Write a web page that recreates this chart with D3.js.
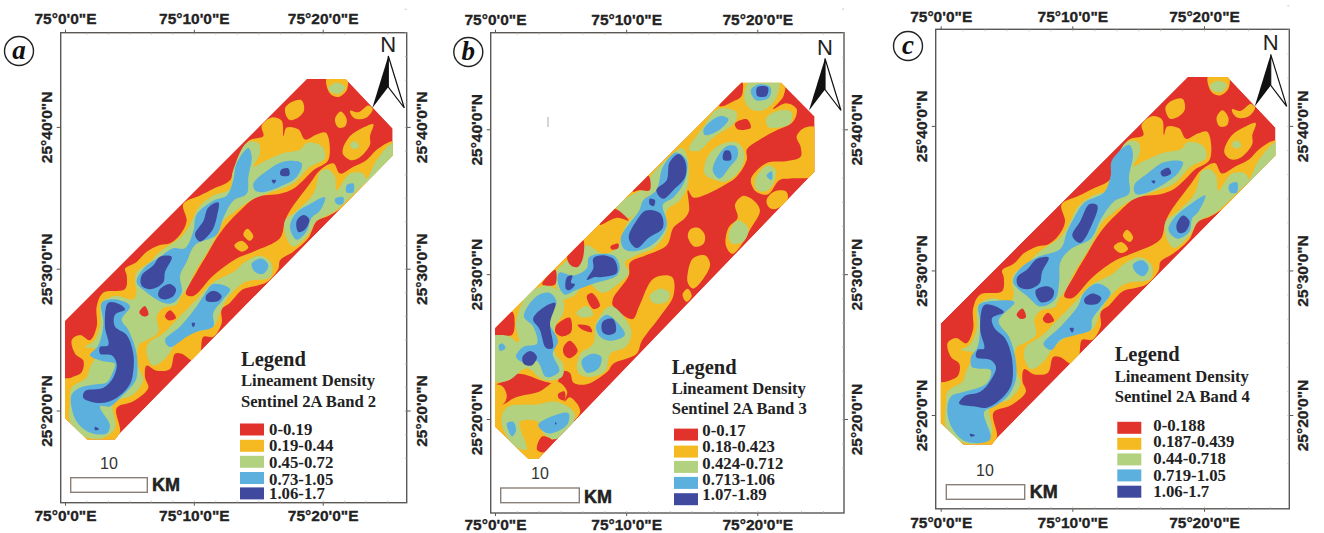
<!DOCTYPE html>
<html>
<head>
<meta charset="utf-8">
<script src="https://cdn.jsdelivr.net/npm/d3@7"></script>
<style>
html,body{margin:0;padding:0;background:#fff;overflow:hidden;}
svg{display:block;}
</style>
</head>
<body>
<div id="canvas"></div>
<script>
//Axis ticks. lon = minutes after 75E, lat = minutes after 25N
var lonTicks = [0, 10, 20];
var lonLabels = ["75°0'0\"E", "75°10'0\"E", "75°20'0\"E"];
var latTicks = [40, 30, 20];
var latLabels = ["25°40'0\"N", "25°30'0\"N", "25°20'0\"N"];

//Legend
var classColors = ["#e1322c", "#f5b922", "#b2d280", "#5bb0de", "#3f4a9e"];
var legendA = ["0-0.19", "0.19-0.44", "0.45-0.72", "0.73-1.05", "1.06-1.7"];
var legendB = ["0-0.17", "0.18-0.423", "0.424-0.712", "0.713-1.06", "1.07-1.89"];
var legendC = ["0-0.188", "0.187-0.439", "0.44-0.718", "0.719-1.05", "1.06-1.7"];

//Study area outline
var footprintA = [[0,26.33],[18.76,43.38],[21.79,43.38],[25.43,39.88],[25.43,37.96],[4.27,18.4],[3.88,17.94],[1.73,17.94],[0,19.45]];
var footprintB = [[0,26.27],[18.78,43.22],[21.83,43.22],[24.37,40.89],[24.37,37.07],[3.3,17.23],[2.54,17.23],[0,19.46]];

//Band 2 rings
var orangeA = [
 [[-.39,22.09],[.52,22.33],[1.29,22.69],[1.42,23.53],[.78,24.01],[.52,24.96],[1.16,25.32],[1.94,24.96],[2.46,25.92],[2.46,27.36],[2.98,28.32],[4.66,28.56],[4.79,29.52],[4.66,30],[5.56,30.48],[6.34,31.2],[7.37,31.68],[8.15,31.8],[8.93,32.4],[9.44,33.36],[9.18,34.56],[10.48,35.16],[11.51,35.64],[12.81,36.24],[13.06,36.95],[14.23,39],[15.39,39.35],[15.26,40.07],[16.04,40.67],[16.82,40.43],[16.95,39.35],[17.2,39.95],[18.11,39.83],[18.63,39.11],[19.53,39.47],[20.26,39.59],[20.44,37.67],[19.27,36.95],[18.5,36.24],[17.72,35.64],[16.69,35.28],[14.88,35.04],[13.58,34.08],[12.55,33.12],[11.77,32.16],[11,30.96],[10.22,29.76],[9.39,28.2],[9.96,28.08],[11.51,29.52],[13.32,30.72],[14.62,31.2],[16.69,32.16],[17.07,33.36],[17.46,34.08],[19.01,36],[19.79,36.95],[20.83,37.43],[21.34,36.71],[22.38,37.19],[23.41,37.67],[24.19,38.39],[25.43,38.99],[25.74,38.63],[25.74,37.91],[23.67,36.24],[22.12,34.8],[21.34,34.2],[20.44,33.72],[19.53,33.36],[19.14,32.64],[18.89,32.16],[17.72,31.2],[16.69,30.6],[16.56,30],[15.65,29.04],[14.88,28.8],[13.84,28.56],[12.81,27.6],[12.16,27.12],[12.16,26.16],[11.51,25.2],[10.74,25.2],[10.48,24.01],[9.96,23.53],[9.05,24.01],[8.54,24.01],[8.15,22.93],[7.11,22.81],[6.34,23.17],[6.21,22.33],[6.47,21.61],[5.3,20.65],[4.01,20.17],[4.27,18.49],[3.75,17.77],[1.42,17.53],[-.39,19.21]],
 [[20.31,43.43],[21.86,43.43],[21.86,42.59],[21.21,42.11],[20.57,42.35]],
 [[17.07,41.27],[17.59,41.75],[18.37,41.87],[18.55,41.15],[18.11,40.67],[17.41,40.5]],
 [[20.95,40.55],[21.4,41.08],[21.86,40.55],[21.73,40.02],[21.21,39.95]],
 [[22.12,41.15],[22.77,41.03],[23.54,41.51],[23.88,41.27],[23.41,40.67],[22.64,40.55],[22.25,40.79]],
 [[21.55,38.39],[22.12,39.35],[23.15,39.95],[23.93,40.19],[23.67,39.35],[23.67,38.75],[22.77,37.79],[22.12,37.67],[21.6,38.03]],
 [[13.84,32.4],[14.15,32.81],[14.62,32.28],[14.36,31.97]],
 [[13.14,31.63],[13.71,31.97],[14.23,31.49],[13.71,31.2]]
];
var greenA = [
 [[.52,21.61],[1.68,22.33],[1.94,23.05],[2.59,24.25],[1.55,24.49],[2.2,24.84],[2.72,25.92],[2.85,27.6],[3.88,28.08],[5.3,27.84],[5.56,28.32],[5.43,29.04],[5.56,29.76],[6.6,30.48],[7.37,31.2],[9.18,32.4],[9.96,33.6],[10.35,34.32],[11.51,35.16],[12.81,35.64],[13.06,36.95],[14.1,38.87],[15,38.87],[15.13,38.15],[14.62,37.19],[15.39,37.55],[16.94,38.15],[18.24,38.39],[18.76,38.87],[19.92,38.63],[20.18,37.79],[19.01,37.19],[18.37,36.59],[17.72,36],[15.65,35.28],[14.36,34.8],[13.06,33.96],[12.29,33.36],[11.51,31.92],[10.74,30.72],[10.22,30],[9.44,28.56],[8.93,27.96],[8.67,27.48],[7.63,27.24],[7.11,26.64],[7.24,25.56],[6.34,24.96],[5.82,24.72],[5.56,23.77],[5.82,22.81],[6.08,22.21],[5.3,21.13],[3.75,20.53],[3.88,18.73],[2.72,18.01],[1.29,18.25],[.39,19.21],[.39,20.65]],
 [[11.51,29.04],[13.06,29.76],[13.97,30.48],[15.13,30.91],[16.04,30.36],[15.91,29.4],[14.36,29.16],[13.71,28.92],[12.55,27.84],[12.03,26.88],[11.51,25.92],[9.44,25.32],[8.41,24.48],[7.89,23.77],[6.86,23.17],[6.34,24.01],[6.47,24.72],[7.63,25.44],[8.93,26.64],[10.22,27.84]],
 [[19.66,36.47],[19.79,36.83],[20.44,37],[20.95,36.47],[21.08,35.52],[22.12,36.71],[23.15,36.71],[23.41,36.35],[24.19,37.67],[25.48,38.87],[25.87,37.91],[23.41,36.12],[21.6,34.56],[20.83,33.96],[19.53,33.36],[18.89,32.4],[17.72,31.56],[17.2,32.16],[17.07,33.36],[17.98,34.08],[19.27,35.28]],
 [[22.12,38.75],[22.51,38.99],[22.84,38.63],[22.38,38.44]],
 [[20.44,42.76],[21.08,43.12],[21.73,42.83],[21.34,42.35],[20.7,42.42]]
];
var blueA = [
 [[2.85,27.6],[3.88,27.84],[5.04,27.36],[4.4,26.4],[4.92,25.68],[5.56,24.01],[5.56,22.33],[5.3,21.85],[4.27,20.89],[3.49,20.29],[2.72,20.29],[3.49,18.97],[3.23,18.37],[1.81,18.49],[.91,19.21],[.52,20.17],[.52,21.13],[1.16,21.61],[2.46,21.85],[3.23,21.97],[3.75,22.81],[3.88,23.29],[2.72,23.53],[1.94,23.89],[2.59,24.6],[2.98,26.16]],
 [[5.56,29.04],[6.08,30],[7.37,30.84],[8.41,31.44],[9.31,31.44],[9.96,32.64],[10.22,33.84],[11.51,34.8],[12.55,35.16],[13.06,36.24],[13.32,37.43],[14.23,38.51],[14.49,37.91],[14.23,36.47],[14.1,35.28],[13.06,34.8],[12.29,33.6],[11.77,32.4],[10.09,31.68],[9.44,30.48],[8.93,29.52],[9.05,28.32],[8.41,27.6],[7.63,27.6],[6.34,28.32]],
 [[14.62,36],[15.39,36.71],[16.94,37.55],[18.37,37.43],[17.98,36.47],[16.94,35.88],[15.39,35.4],[14.75,35.52]],
 [[7.76,24.96],[8.93,25.92],[10.22,27.36],[10.74,28.08],[11.51,28.92],[12.81,28.56],[12.29,27.84],[11.51,26.88],[11.51,25.92],[10.22,25.56],[9.44,25.2],[8.15,24.48]],
 [[17.46,32.88],[17.85,33.84],[19.01,34.56],[20.18,35.04],[19.79,34.08],[19.14,33.6],[18.76,32.64],[17.98,32.04]],
 [[14.49,30.36],[15.26,30.72],[15.78,30.24],[15.39,29.64],[14.75,29.76]],
 [[21.86,35.88],[22.38,36],[22.38,35.4],[21.86,35.4]],
 [[20.95,34.92],[21.6,35.04],[21.55,34.56],[21.08,34.56]]
];
var navyA = [
 [[3.36,27.6],[4.27,27.48],[4.66,27.12],[3.88,26.76],[3.88,25.92],[4.79,25.32],[5.3,24.01],[5.3,22.81],[5.04,21.85],[4.01,20.89],[2.72,20.53],[1.42,20.89],[1.55,21.37],[2.98,21.61],[3.75,22.33],[4.01,23.29],[3.62,23.89],[2.72,24.01],[2.72,24.49],[3.36,24.6],[3.1,25.92]],
 [[5.95,29.52],[6.86,30.24],[7.37,30.84],[8.28,30.84],[7.76,29.76],[7.63,29.04],[6.73,28.56],[5.95,28.8]],
 [[7.37,28.56],[8.15,28.92],[8.61,28.56],[8.41,28.08],[7.63,27.84],[7.24,28.08]],
 [[10.09,32.4],[10.74,33.36],[11.12,34.32],[11.9,34.68],[11.77,33.6],[11.38,32.64],[10.48,31.92]],
 [[10.94,28.08],[11.51,28.44],[12.16,28.08],[11.9,27.72],[10.99,27.72]],
 [[16.74,36.95],[17.33,37.07],[17.41,36.59],[16.74,36.59]],
 [[17.98,33.36],[18.5,33.79],[18.96,33.48],[18.63,32.76],[18.11,32.59]],
 [[16.04,36.24],[16.38,36.24],[16.22,36]],
 [[9.83,26.16],[10.09,26.16],[9.96,25.88]],
 [[2.33,18.85],[2.64,18.68],[2.33,18.61]]
];
var holesA = [
 [[5.77,26.93],[6.21,27.36],[6.47,26.76],[6.08,26.64]],
 [[7.76,26.64],[8.15,27.07],[8.61,26.52],[8.02,26.36]]
];

//Band 3 rings
var orangeB = [
 [[-.6,26.6],[16.9,42.1],[18.7,43.5],[22,43.5],[22,42.3],[21.2,41.4],[22.2,41.8],[23,41.4],[22.7,40.5],[21.4,39.9],[20.2,39.3],[19.2,38.6],[19.2,37.9],[18.4,36.7],[17.6,36.2],[16.1,35.5],[15.1,35.3],[14.7,35.8],[14.8,34.4],[14.5,33.9],[13.6,33.2],[13.1,32],[11.5,31.3],[10.3,30.8],[10.2,29.9],[9,28.3],[9,27.8],[10.5,26.9],[11,27.8],[12.1,29.7],[13.5,29.8],[13.6,28.5],[12.6,27.1],[11.2,25.4],[10.8,24.5],[9,23.8],[8.6,23.3],[7,22.4],[6,22.5],[5.7,23.2],[5.1,23.3],[4.7,22.5],[3.7,22.6],[2.5,23],[1.6,23.1],[.4,22.5],[-.4,22.4]],
 [[.6,21],[1.6,21.5],[3.4,21.9],[4.7,22.6],[5.5,21.9],[5.3,21.2],[5.7,21.5],[6.5,20.5],[4.4,18.6],[3.4,17.1],[2.4,17.1],[-.4,19.3],[-.4,20.8]],
 [[-.4,22.3],[.5,22.3],[.9,21.6],[.6,21],[-.4,20.9]],
 [[24.5,40.1],[23.6,40.1],[23,39.5],[23.3,38.8],[23.3,38.1],[22.2,37.8],[20.8,37.7],[19.9,37.1],[19.5,36.5],[19.9,35.7],[20.8,35.5],[21.7,36.5],[22.5,36.6],[24.5,36.9]],
 [[20.7,35.1],[21.3,35.7],[22.2,35.7],[22.3,35.1],[21.4,34.5],[20.9,34.6]],
 [[18.3,34.8],[18.9,35.4],[19.7,35.1],[20.2,34.4],[19.4,33],[19,32.3],[18.1,31.4],[17.6,32],[17.8,33.2],[18.5,33.9]],
 [[14.7,32.6],[14.9,33.1],[15.5,33.2],[16,32.7],[15.9,32.1],[15.2,31.9]],
 [[14.7,30.1],[15.1,31.1],[16,31.3],[16.4,30.7],[15.9,29.7],[15.1,29],[14.7,29.4]],
 [[14.3,28.6],[14.7,29],[15,28.5],[14.6,28.1]]
];
var greenB = [
 [[19,42.2],[19.5,43.4],[21.6,43.4],[21.4,42.1],[20.4,41.3],[19.5,41.4]],
 [[14.8,38.6],[15.9,40.2],[17,41.4],[18.4,41.2],[18.3,40.5],[16.6,39.4],[15.5,38.5]],
 [[16.1,37.9],[16.9,38.8],[18.4,39.1],[19,38.4],[18.7,37.2],[17.6,36.4],[16.8,36.5],[16,36.9]],
 [[20.7,40.8],[21.7,41.3],[22.6,41.2],[22.5,40.4],[21.4,40.1],[20.8,40.2]],
 [[19.9,36.7],[20.8,37.5],[21.4,37.2],[21.2,36.2],[20.6,35.7],[19.9,35.9]],
 [[17.8,32.7],[18.5,33.7],[19.3,33.2],[19,32.3],[18.1,32.1]],
 [[11.7,36.5],[13.3,38.1],[14.3,38.7],[14.7,37.9],[14.7,36.2],[14.1,35.1],[13.1,34.4],[13.1,33],[12.1,31.8],[10.8,31.3],[9.9,30.8],[10.2,30.1],[9.5,29.4],[8.2,28.7],[7,29.4],[6,28.5],[5.1,28.3],[4.7,29],[4.6,30.1],[5.7,31.1],[7,32],[8.2,31.4],[9.3,31.8],[9.9,33.2],[10.4,33.9],[11.5,35.3]],
 [[9.3,34.6],[10.5,35.5],[11.5,35.8],[11,34.4],[10,33.9]],
 [[2.4,28.5],[3.7,29.2],[4.6,29],[5.2,28.3],[5.2,27.3],[4.6,26.4],[4.6,24.5],[5.2,23.8],[5.1,22.9],[3.7,22.7],[2.4,23.5],[1.1,22.7],[0,22.6],[-.4,24],[-.4,25.8],[.9,25.8],[1.8,25.3],[1.6,26.6]],
 [[7.7,26.6],[8.8,27.8],[9.8,27.1],[10.4,26],[10,25],[8.8,24.5],[8.4,23.3],[7,22.9],[6.3,23.3],[6.5,24.5],[7.5,25.2]],
 [[11.8,28.5],[12.6,29],[13.3,28.7],[13.1,28.1],[12.1,28]],
 [[6.2,27.3],[7,27.8],[7.5,27.2],[6.7,27]],
 [[.5,19.8],[.9,20.8],[3.2,21],[4.6,21.2],[6,20.5],[6,19.8],[4.6,18.6],[3.7,19],[3.3,19.8],[1.9,19.8],[2.4,17.9],[1.4,18.2]]
];
var blueB = [
 [[9.6,32.5],[11,34.4],[11.3,35.1],[12.3,35.8],[12.8,37.4],[13.8,38.4],[14.6,37.9],[14.5,36.5],[13.6,35.3],[12.8,34.8],[13.1,33.4],[12.1,32.1],[10.8,31.6],[9.9,31.7]],
 [[4.8,29.4],[4.9,30.1],[6,29.9],[7,30.4],[7.2,31.2],[9,31.3],[9.5,30.6],[9.3,29.9],[7.7,29.4],[6.2,28.9],[5.3,28.6]],
 [[2.2,27.1],[3.2,28.5],[4.2,28.7],[4.7,28],[3.9,27.1],[4.8,25.4],[4.4,24.5],[4.9,23.3],[3.9,22.9],[3.2,24],[2.2,23.9],[1.6,24.3],[2.2,25],[3.2,25.2],[2.9,26.4]],
 [[7.7,26.4],[8.5,27.2],[9.4,26.6],[9.9,25.8],[8.8,25.4],[8,25.7]],
 [[6.6,24],[7.4,24.5],[8.1,24.3],[7.9,23.5],[7,23.2]],
 [[15.9,40],[17.1,40.9],[17.8,40.7],[17,39.9],[16,39.6]],
 [[16.6,37.2],[17.6,38.8],[18.4,38.8],[18.5,38.1],[17.9,37.4],[17.1,36.6]],
 [[3.3,19.6],[4.4,20.2],[5.6,20.4],[5.5,19.6],[4.2,19],[3.6,19.2]],
 [[.9,19.7],[1.4,19.8],[1.6,19.2],[1.3,18.8]],
 [[.3,25.1],[.6,25.2],[.8,24.9],[.4,24.7]],
 [[20.7,36.8],[21.1,37.1],[21.1,36.5]],
 [[19.5,42.7],[20.1,43.1],[21,42.9],[20.9,42.2],[19.9,42]]
];
var navyB = [
 [[12.3,35.8],[13.1,36.5],[13.3,37.7],[14,38.3],[14.5,37.8],[14.5,36.7],[13.6,35.8],[12.8,35.2]],
 [[10.2,32.5],[10.8,33.7],[11.5,34.4],[12.6,34.2],[12.8,33.2],[11.7,32.5],[10.8,31.8]],
 [[7,29.6],[7.5,30.4],[7.5,31.1],[8.2,31.3],[9.1,31],[9.3,30.1],[8.2,29.8],[7.6,29.8]],
 [[5.5,29.8],[5.9,29.9],[5.8,29.4],[6.1,29.3],[5.7,28.9],[5.4,29]],
 [[2.9,26.9],[3.7,27.7],[4.6,28],[4.2,26.6],[4.4,25.4],[4.4,24.9],[3.9,24.9],[3.4,26.2]],
 [[2.1,24.3],[2.7,24.7],[3.2,24.3],[2.8,23.7],[2.2,23.8]],
 [[8.2,26.7],[9,26.9],[9.2,26],[8.6,25.8],[8.2,26]],
 [[20,42.9],[20.8,42.9],[20.7,42.3],[20,42.3]],
 [[17.5,38.5],[17.9,38.5],[18,37.9],[17.4,37.9]],
 [[11.8,35.2],[12.2,35.1],[12.1,34.7],[11.8,34.8]],
 [[4.6,19.8],[4.7,19.7],[4.6,19.6]]
];
var holesB = [
 [[3.6,29.3],[4.6,30.3],[4.6,29.3],[4.1,29.2]],
 [[5.5,31.2],[6.7,32.4],[6.7,31.1],[6.3,30.5],[5.8,30.6]],
 [[8,33.4],[9.1,34.5],[10.2,33.7],[9.3,33.9]],
 [[10.5,35.7],[11.7,36.8],[11.8,35.8],[11,35.8]],
 [[17.1,41.6],[18.8,43.4],[18.8,42.3],[18.1,41.9],[17.4,41.6]],
 [[-.4,25.9],[-.4,26.5],[1.3,27.4],[1.5,26.7],[1.3,25.8],[.6,25.8]],
 [[18.3,40.4],[19.2,40.7],[19.5,40.1],[18.5,40]],
 [[4.7,26.5],[5.7,27],[5.8,26],[5.1,25.7],[4.6,26]],
 [[5.2,24.9],[5.7,25.4],[6.3,24.7],[5.7,24.2],[5.3,24.4]],
 [[7,28.5],[7.4,28.7],[8,27.8],[7.5,27.6]],
 [[6.3,26.5],[7.2,26.4],[7.4,26],[6.6,26.2]],
 [[8.8,31.9],[9.4,32.1],[9.4,31.8],[8.9,31.7]],
 [[4.8,21.7],[5.3,21.9],[5.3,21.3],[4.9,21.4]],
 [[3.2,17.9],[3.6,18.8],[4.4,18.5],[3.7,17.7]]
];

//Band 4 rings. Its two outer classes are read the same as band 2
var blueC = [
 [[2.9,27.6],[4.3,27.9],[5.6,27.8],[4.4,26.5],[5.2,25.4],[5.7,23.8],[5.7,22.4],[5.1,21.3],[4.1,20.6],[3.3,20.2],[3.8,18.4],[3.3,18.1],[1.8,18.2],[.8,19.2],[.5,20.5],[.8,21.3],[1.8,21.6],[3.5,22.2],[3.8,23.1],[2.4,23.3],[2.3,24],[2.8,24.7],[3,26.4]],
 [[5.5,29.2],[6,30.1],[7.3,30.9],[9.1,31.5],[9.6,32.7],[10.1,33.6],[10.9,34.7],[12.4,35.4],[12.9,36.5],[13,37.6],[14.3,38.7],[14.6,38.1],[14.3,36.5],[14.3,35.3],[13.2,34.8],[12.2,33.6],[11.4,32.2],[9.9,31.5],[9.1,30.6],[9,29.2],[8.7,28],[7.6,27.5],[6.6,28.2]],
 [[14.7,35.9],[15.7,36.7],[17,37.5],[18.4,37.5],[18,36.7],[17,36],[15.4,35.3],[14.8,35.3]],
 [[7.8,24.9],[9.1,26.1],[10.4,27.5],[10.9,28.5],[11.9,29.1],[12.9,28.5],[12.2,27.5],[11.5,26.6],[11.4,25.9],[10.1,25.5],[9.1,25.2],[8.4,24.5]],
 [[17.3,32.8],[17.7,33.6],[19,34.6],[20.1,35.2],[19.6,34.1],[19.1,33.6],[18.9,32.7],[18,32.2]],
 [[14.6,30.4],[15.3,30.7],[15.8,30.2],[15.4,29.6],[14.8,29.9]],
 [[21.9,35.9],[22.5,36.1],[22.5,35.4],[22,35.4]]
];
var navyC = [
 [[3.3,27.6],[4.2,27.5],[4.8,27.1],[3.9,26.7],[4.1,26],[4.9,25.3],[5.4,24],[5.4,22.2],[4.8,21.3],[3.5,20.5],[2.5,20.6],[1.4,20.8],[1.8,21.3],[3,21.6],[3.8,22.4],[4.2,23.3],[3.8,23.8],[2.7,24],[2.8,24.5],[3.3,24.6],[3,25.9]],
 [[5.8,29.5],[6.6,30.1],[7.3,30.8],[8.2,30.9],[7.7,29.9],[7.5,29.1],[6.6,28.7],[5.9,28.9]],
 [[7.2,28.6],[8.1,28.9],[8.6,28.6],[8.4,28],[7.6,27.8]],
 [[10,32.4],[10.6,33.4],[11.3,34.6],[11.9,34.5],[11.5,33.2],[10.6,31.9]],
 [[10.9,28],[11.5,28.4],[12.2,28.1],[11.9,27.7],[11,27.7]],
 [[16.7,36.8],[17.3,37.1],[17.5,36.7],[16.9,36.5]],
 [[17.9,33.1],[18.4,33.8],[18.9,33.4],[18.6,32.7],[18.1,32.6]],
 [[16,36.2],[16.3,36.2],[16.2,36]],
 [[9.8,26],[10.1,26],[10,25.7]],
 [[2.2,18.7],[2.6,18.6],[2.3,18.5]]
];

//Where each map sits on the page
var panels = [
 {id:"a", badge:"a", band:"Sentinel 2A Band 2", foot:footprintA, layers:[orangeA, greenA, blueA, navyA], holes:holesA, legend:legendA,
  frame:[60.7,32.7,406.7,502.7], x:[65,322.7], y:[126.9,410.5], topY:18.4, botY:516, leftX:47, rightX:422,
  badgeAt:[19,51], north:[388.3,56], bar:[70.7,477.7,147.3,492.3], barText:[109,469], kmAt:[152,491],
  legendX:241, legendY:[365.6,386,406.5], swatchX:240, swatchY:[423.5,439.8,455.8,472,487.4], labelX:269, labelY:[435.4,450.7,467.7,484.7,499.3]},
 {id:"b", badge:"b", band:"Sentinel 2A Band 3", foot:footprintB, layers:[orangeB, greenB, blueB, navyB], holes:holesB, legend:legendB,
  frame:[490.7,32.7,844,513], x:[495,757.3], y:[129.3,419], topY:19.7, botY:524.5, leftX:477, rightX:857,
  badgeAt:[468.3,52], north:[825,58.5], bar:[500.7,488,579.3,502.7], barText:[540,479], kmAt:[584,502.7],
  legendX:671.7, legendY:[373.5,393.9,414.3], swatchX:674, swatchY:[428.6,445.6,460.9,476.9,493.2], labelX:702.3, labelY:[436.4,452.4,469.4,484.7,500]},
 {id:"c", badge:"c", band:"Sentinel 2A Band 4", foot:footprintA, layers:[orangeA, greenA, blueC, navyC], holes:holesA, legend:legendC,
  frame:[935.7,29.3,1289.3,508.8], x:[940.7,1204], y:[125.9,415], topY:16.3, botY:522.5, leftX:922, rightX:1303,
  badgeAt:[908,46], north:[1270.7,54.4], bar:[946.3,484.7,1024.7,499.3], barText:[985,475.5], kmAt:[1029.7,498.3],
  legendX:1114.7, legendY:[361.2,381.6,402], swatchX:1117.3, swatchY:[421.8,437.8,453.4,469.4,485.7], labelX:1153.3, labelY:[431.3,447.3,464.3,480.6,496.6]}
];

var svg = d3.select("#canvas").append("svg").attr("width", 1324).attr("height", 533);
var SANS = "'Liberation Sans', Arial, sans-serif";
var SERIF = "'Liberation Serif', 'Times New Roman', serif";
var FRAME_COLOR = "#5a5754";

panels.forEach(drawPanel);

//stray speck in the middle map
svg.append("line").attr("x1", 548).attr("x2", 548).attr("y1", 117).attr("y2", 127)
    .attr("stroke", "#aaa").attr("stroke-width", 1);

function drawPanel(p) {
    var g = svg.append("g");
    var x = d3.scaleLinear().domain([0, 20]).range(p.x);
    var y = d3.scaleLinear().domain([40, 20]).range(p.y);
    var ring = d3.line().x(function(d){return x(d[0]);}).y(function(d){return y(d[1]);});
    var smooth = d3.line().x(function(d){return x(d[0]);}).y(function(d){return y(d[1]);})
        .curve(d3.curveCatmullRomClosed.alpha(0.5));

    //map
    g.append("clipPath").attr("id", "clip-" + p.id)
        .append("path").attr("d", ring(p.foot) + "Z");
    var map = g.append("g").attr("clip-path", "url(#clip-" + p.id + ")");
    map.append("path").attr("d", ring(p.foot) + "Z").attr("fill", classColors[0]);
    p.layers.forEach(function(rings, i){
        map.selectAll("path.c" + i).data(rings).enter().append("path")
            .attr("class", "c" + i)
            .attr("d", smooth)
            .attr("fill", classColors[i + 1]);
    });
    map.selectAll("path.hole").data(p.holes).enter().append("path")
        .attr("class", "hole")
        .attr("d", smooth)
        .attr("fill", classColors[0]);

    //frame
    g.append("rect")
        .attr("x", p.frame[0]).attr("y", p.frame[1])
        .attr("width", p.frame[2] - p.frame[0]).attr("height", p.frame[3] - p.frame[1])
        .attr("fill", "none").attr("stroke", FRAME_COLOR).attr("stroke-width", 1.4);

    //faint inner ticks
    var minorLon = d3.range(5/3, 25.5, 5/3);
    var minorLat = d3.range(40 + 5/3 * 5, 15, -5/3);
    g.append("g").attr("transform", "translate(0," + p.frame[3] + ")")
        .call(d3.axisBottom(x).tickValues(minorLon).tickSize(-2).tickFormat(""))
        .call(faint);
    g.append("g").attr("transform", "translate(0," + p.frame[1] + ")")
        .call(d3.axisTop(x).tickValues(minorLon).tickSize(-2).tickFormat(""))
        .call(faint);
    g.append("g").attr("transform", "translate(" + p.frame[2] + ",0)")
        .call(d3.axisRight(y).tickValues(minorLat).tickSize(-2).tickFormat(""))
        .call(faint);

    //labelled ticks
    function lonFmt(d){ return lonLabels[lonTicks.indexOf(d)]; }
    function latFmt(d){ return latLabels[latTicks.indexOf(d)]; }

    var top = g.append("g").attr("transform", "translate(0," + p.frame[1] + ")")
        .call(d3.axisTop(x).tickValues(lonTicks).tickSize(3).tickFormat(lonFmt));
    var bottom = g.append("g").attr("transform", "translate(0," + p.frame[3] + ")")
        .call(d3.axisBottom(x).tickValues(lonTicks).tickSize(3).tickFormat(lonFmt));
    var left = g.append("g").attr("transform", "translate(" + p.frame[0] + ",0)")
        .call(d3.axisLeft(y).tickValues(latTicks).tickSize(4).tickFormat(latFmt));
    var right = g.append("g").attr("transform", "translate(" + p.frame[2] + ",0)")
        .call(d3.axisRight(y).tickValues(latTicks).tickSize(4).tickFormat(latFmt));

    [top, bottom, left, right].forEach(function(ax){
        ax.select(".domain").remove();
        ax.selectAll("line").attr("stroke", FRAME_COLOR).attr("stroke-width", 1);
        ax.selectAll("text")
            .attr("font-family", SANS).attr("font-weight", "bold").attr("font-size", 15.5)
            .attr("fill", "#222").attr("stroke", "#222").attr("stroke-width", 0.3)
            .attr("dy", "0.35em").attr("text-anchor", "middle");
    });
    top.selectAll("text").attr("x", 0).attr("y", p.topY - p.frame[1]);
    bottom.selectAll("text").attr("x", 0).attr("y", p.botY - p.frame[3]);
    left.selectAll("text").attr("x", 0).attr("y", 0)
        .attr("transform", "translate(" + (p.leftX - p.frame[0]) + ",0)rotate(-90)");
    right.selectAll("text").attr("x", 0).attr("y", 0)
        .attr("transform", "translate(" + (p.rightX - p.frame[2]) + ",0)rotate(-90)");

    //panel letter
    g.append("circle").attr("cx", p.badgeAt[0]).attr("cy", p.badgeAt[1]).attr("r", 14.5)
        .attr("fill", "#fff").attr("stroke", "#222").attr("stroke-width", 1.4);
    g.append("text").attr("x", p.badgeAt[0]).attr("y", p.badgeAt[1] + 8)
        .attr("text-anchor", "middle").attr("font-family", SERIF)
        .attr("font-style", "italic").attr("font-weight", "bold").attr("font-size", 27)
        .attr("fill", "#111").text(p.badge);

    //north arrow
    var tx = p.north[0], ty = p.north[1];
    g.append("text").attr("x", tx).attr("y", ty - 4).attr("text-anchor", "middle")
        .attr("font-family", SANS).attr("font-size", 22).attr("fill", "#222").text("N");
    g.append("path").attr("d", d3.line()([[tx, ty], [tx - 16, ty + 52], [tx, ty + 31]]) + "Z").attr("fill", "#111");
    g.append("path").attr("d", d3.line()([[tx, ty], [tx + 16, ty + 52], [tx, ty + 31]]) + "Z")
        .attr("fill", "#fff").attr("stroke", "#111").attr("stroke-width", 1.2);

    //scale bar
    g.append("rect").attr("x", p.bar[0]).attr("y", p.bar[1])
        .attr("width", p.bar[2] - p.bar[0]).attr("height", p.bar[3] - p.bar[1])
        .attr("fill", "#fff").attr("stroke", "#8a8078").attr("stroke-width", 1.4);
    g.append("text").attr("x", p.barText[0]).attr("y", p.barText[1]).attr("text-anchor", "middle")
        .attr("font-family", SANS).attr("font-size", 16).attr("fill", "#333").text("10");
    g.append("text").attr("x", p.kmAt[0]).attr("y", p.kmAt[1])
        .attr("font-family", SANS).attr("font-weight", "bold").attr("font-size", 18)
        .attr("fill", "#222").attr("stroke", "#222").attr("stroke-width", 0.5).text("KM");

    //legend
    var heads = ["Legend", "Lineament Density", p.band];
    g.selectAll("text.head").data(heads).enter().append("text")
        .attr("class", "head")
        .attr("x", p.legendX)
        .attr("y", function(d, i){return p.legendY[i];})
        .attr("font-family", SERIF).attr("font-weight", "bold").attr("fill", "#222")
        .attr("font-size", function(d, i){return i == 0 ? 20.5 : 16.6;})
        .text(function(d){return d;});
    g.selectAll("rect.swatch").data(classColors).enter().append("rect")
        .attr("class", "swatch")
        .attr("x", p.swatchX)
        .attr("y", function(d, i){return p.swatchY[i];})
        .attr("width", 24).attr("height", 12)
        .attr("fill", function(d){return d;});
    g.selectAll("text.lab").data(p.legend).enter().append("text")
        .attr("class", "lab")
        .attr("x", p.labelX)
        .attr("y", function(d, i){return p.labelY[i];})
        .attr("font-family", SERIF).attr("font-weight", "bold").attr("font-size", 16.8).attr("fill", "#222")
        .text(function(d){return d;});
}

function faint(sel) {
    sel.select(".domain").remove();
    sel.selectAll("line").attr("stroke", "#b5b0aa").attr("stroke-width", 0.7);
}
</script>
</body>
</html>
